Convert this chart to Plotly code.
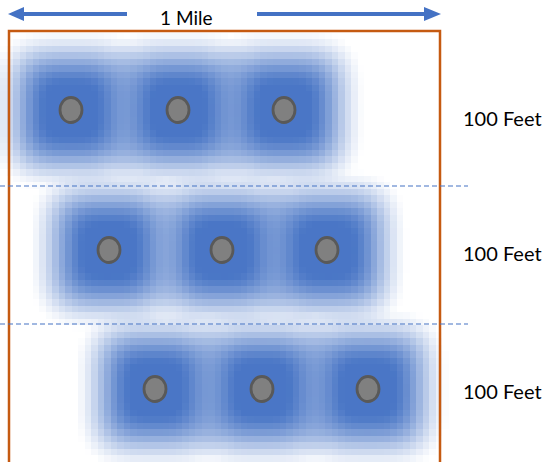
import numpy as np
import plotly.graph_objects as go

# ---- data ----
row_labels = ["100 Feet", "100 Feet", "100 Feet"]
row_label_y = [118, 253, 391]
well_x = [[71, 178, 284], [109, 222, 327], [155, 262, 368]]
well_y = [110, 250, 389]
divider_y = [186, 324]
title_text = "1 Mile"

W, H = 549, 462
BLUE = "#4472C4"
ORANGE = "#C55A11"

# ---- glow grid (rendered from well positions) ----
step = 6.5
gx = np.arange(step / 2, W + step, step)
gy = np.arange(step / 2, H + step, step)
GX, GY = np.meshgrid(gx, gy)
keep = np.ones_like(GX, dtype=float)

P, R_IN, R_OUT = 3.5, 26.0, 80.0

for row, yy in zip(well_x, well_y):
    for xx in row:
        r = (np.abs(GX - xx) ** P + np.abs(GY - yy) ** P) ** (1 / P)
        t = np.clip((R_OUT - r) / (R_OUT - R_IN), 0, 1)
        b = t * t * (3 - 2 * t) * 0.6 + t * 0.4
        keep *= (1 - 0.97 * b)
Z = 1 - keep

fig = go.Figure()
fig.add_trace(go.Heatmap(
    x=gx, y=gy, z=Z, zmin=0, zmax=1, zsmooth=False,
    colorscale=[[0, "#FFFFFF"], [1, BLUE]],
    showscale=False, hoverinfo="skip",
))

shapes = []
# orange boundary
shapes.append(dict(type="rect", x0=9, x1=440, y0=31, y1=470,
                   line=dict(color=ORANGE, width=2.5), layer="above"))
# dashed dividers
for dy in divider_y:
    shapes.append(dict(type="line", x0=0, x1=468, y0=dy, y1=dy,
                       line=dict(color=BLUE, width=1.2, dash="5px,3px"), layer="above"))
# wells
for row, yy in zip(well_x, well_y):
    for xx in row:
        shapes.append(dict(type="circle", x0=xx - 11, x1=xx + 11, y0=yy - 12.5, y1=yy + 12.5,
                           fillcolor="#808080", line=dict(color="#595959", width=2.8), layer="above"))
# arrows
shapes.append(dict(type="line", x0=22, x1=127, y0=14, y1=14, line=dict(color=BLUE, width=4), layer="above"))
shapes.append(dict(type="path", path="M 8 14 L 24 7 L 24 21 Z", fillcolor=BLUE, line=dict(width=0), layer="above"))
shapes.append(dict(type="line", x0=257, x1=426, y0=14, y1=14, line=dict(color=BLUE, width=4), layer="above"))
shapes.append(dict(type="path", path="M 441 14 L 424 7 L 424 21 Z", fillcolor=BLUE, line=dict(width=0), layer="above"))

annotations = [dict(x=186, y=17, text=title_text, showarrow=False,
                    font=dict(family="Lato", size=19, color="#000000"))]
for lab, ly in zip(row_labels, row_label_y):
    annotations.append(dict(x=502, y=ly, text=lab, showarrow=False,
                            font=dict(family="Lato", size=20, color="#000000")))

fig.update_layout(
    width=W, height=H, margin=dict(l=0, r=0, t=0, b=0),
    paper_bgcolor="white", plot_bgcolor="white",
    xaxis=dict(range=[0, W], visible=False, fixedrange=True),
    yaxis=dict(range=[H, 0], visible=False, fixedrange=True),
    shapes=shapes, annotations=annotations, showlegend=False,
)
fig.write_html("out.html", config={"displayModeBar": False},
               post_script="document.body.style.margin='0';document.body.style.overflow='hidden';")
